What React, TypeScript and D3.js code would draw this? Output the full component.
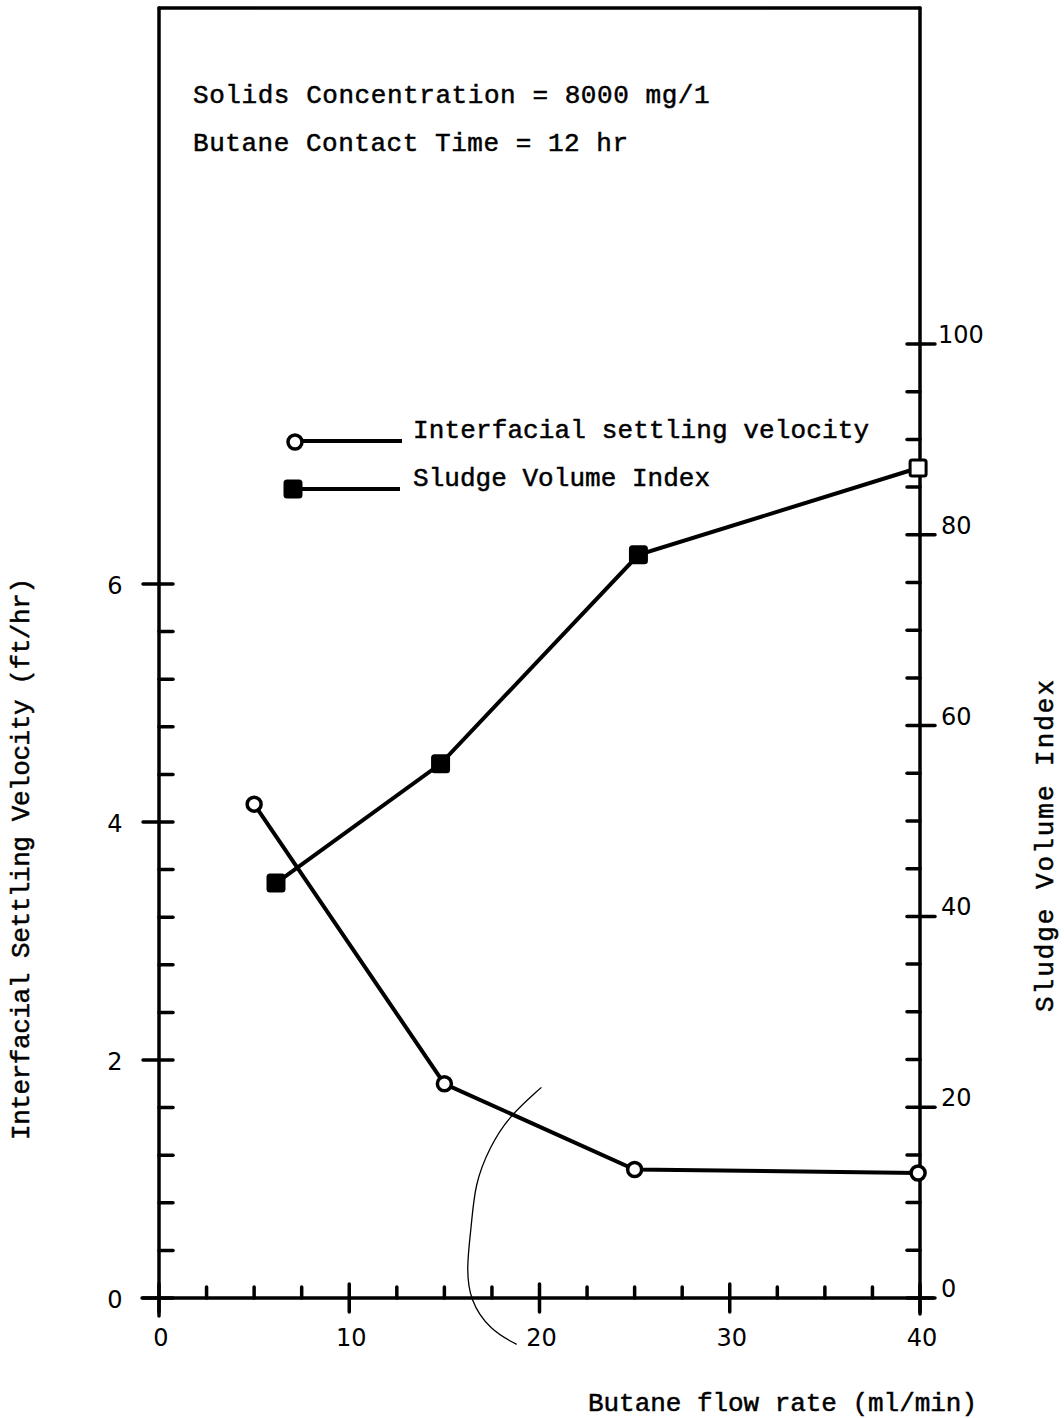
import React from "react";
import * as d3 from "d3";

// Data
const flowIsv = [5, 15, 25, 39.9];
const isv = [4.15, 1.8, 1.08, 1.05];
const flowSvi = [6.15, 14.8, 25.2, 39.9];
const svi = [43.5, 56.0, 77.9, 87.0];
const xTicks = [0, 10, 20, 30, 40];
const leftTicks = [0, 2, 4, 6];
const rightTicks = [0, 20, 40, 60, 80, 100];
const annotations = ["Solids Concentration = 8000 mg/1", "Butane Contact Time = 12 hr"];
const legendLabels = ["Interfacial settling velocity", "Sludge Volume Index"];
const xTitle = "Butane flow rate (ml/min)";
const leftTitle = "Interfacial Settling Velocity (ft/hr)";
const rightTitle = "Sludge Volume Index";
// stray pencil mark on the original sheet (in data units of x / left y)
const pencilX = [20.1, 18.36, 17.39, 16.6, 16.42, 16.16, 16.33, 17.4, 18.8];
const pencilY = [1.77, 1.52, 1.27, 0.96, 0.6, 0.26, -0.02, -0.27, -0.39];

const W = 1064;
const H = 1418;
const mono = "'Liberation Mono', 'DejaVu Sans Mono', monospace";
const digits = "'DejaVu Sans', sans-serif";

export default function App() {
  const x = d3.scaleLinear().domain([0, 40]).range([159, 920]);
  const yL = d3.scaleLinear().domain([0, 6]).range([1298, 584]);
  const yR = d3.scaleLinear().domain([0, 100]).range([1298, 344]);
  const top = 8;

  const lineL = d3.line<number>().x((_, i) => x(flowIsv[i])).y((d) => yL(d));
  const lineR = d3.line<number>().x((_, i) => x(flowSvi[i])).y((d) => yR(d));
  const pencil = d3
    .line<number>()
    .x((d) => x(d))
    .y((_, i) => yL(pencilY[i]))
    .curve(d3.curveBasis);

  const xMinor = d3.range(0, 40.001, 2.5);
  const lMinor = d3.range(0, 6.001, 0.4);
  const rMinor = d3.range(0, 100.001, 5);

  const x0 = x(0);
  const x1 = x(40);
  const y0 = yL(0);

  return (
    <svg width={W} height={H} style={{ position: "absolute", left: 0, top: 0, background: "#fff" }}>
      <rect x={0} y={0} width={W} height={H} fill="#fff" />
      <g stroke="#000" strokeWidth={3.5} strokeLinecap="round" fill="none">
        {/* frame */}
        <line x1={x0} y1={top} x2={x1} y2={top} />
        <line x1={x0} y1={top} x2={x0} y2={y0 + 18} />
        <line x1={x1} y1={top} x2={x1} y2={y0 + 16} />
        <line x1={x0 - 17} y1={y0} x2={x1 + 13} y2={y0} />
        {/* x ticks */}
        {xMinor.map((v) =>
          Math.abs(v % 10) < 1e-6 ? (
            <line key={"xt" + v} x1={x(v)} y1={y0 - 14} x2={x(v)} y2={y0 + 14} />
          ) : (
            <line key={"xt" + v} x1={x(v)} y1={y0 - 11} x2={x(v)} y2={y0} />
          )
        )}
        {/* left ticks */}
        {lMinor.map((v) => {
          const isMajor = Math.abs(v / 2 - Math.round(v / 2)) < 1e-6;
          return (
            <line
              key={"lt" + v}
              x1={isMajor ? x0 - 16 : x0}
              y1={yL(v)}
              x2={x0 + 14}
              y2={yL(v)}
            />
          );
        })}
        {/* right ticks */}
        {rMinor.map((v) => {
          const isMajor = Math.abs(v % 20) < 1e-6;
          return (
            <line
              key={"rt" + v}
              x1={x1 - 13}
              y1={yR(v)}
              x2={isMajor ? x1 + 15 : x1}
              y2={yR(v)}
            />
          );
        })}
      </g>

      {/* pencil mark */}
      <path d={pencil(pencilX) || ""} fill="none" stroke="#000" strokeWidth={1.3} />

      {/* series lines */}
      <path d={lineL(isv) || ""} fill="none" stroke="#000" strokeWidth={4} />
      <path d={lineR(svi) || ""} fill="none" stroke="#000" strokeWidth={4} />

      {/* markers */}
      {isv.map((v, i) => (
        <circle key={"c" + i} cx={x(flowIsv[i])} cy={yL(v)} r={7} fill="#fff" stroke="#000" strokeWidth={3.5} />
      ))}
      {svi.map((v, i) => (
        <rect
          key={"s" + i}
          x={x(flowSvi[i]) - 8}
          y={yR(v) - 8}
          width={16}
          height={16}
          rx={2}
          fill={i === svi.length - 1 ? "#fff" : "#000"}
          stroke="#000"
          strokeWidth={3}
        />
      ))}

      {/* tick labels */}
      <g fontFamily={digits} fontSize={24} fill="#000">
        {xTicks.map((v) => (
          <text key={"xl" + v} x={x(v) + 2} y={y0 + 40} textAnchor="middle" dominantBaseline="central">
            {v}
          </text>
        ))}
        {leftTicks.map((v) => (
          <text key={"ll" + v} x={115} y={yL(v) + 2} textAnchor="middle" dominantBaseline="central">
            {v}
          </text>
        ))}
        {rightTicks.map((v) => (
          <text key={"rl" + v} x={v === 100 ? 938 : 941} y={yR(v) - 9} textAnchor="start" dominantBaseline="central">
            {v}
          </text>
        ))}
      </g>

      {/* texts */}
      <g fontFamily={mono} fontSize={26} fill="#000" stroke="#000" strokeWidth={0.5}>
        {annotations.map((t, i) => (
          <text key={"a" + i} x={193} y={103 + i * 48} textLength={t.length * 16.3 - 5} lengthAdjust="spacing">
            {t}
          </text>
        ))}
        {legendLabels.map((t, i) => (
          <text key={"lg" + i} x={413} y={438 + i * 48} textLength={t.length * 15.9 - 5} lengthAdjust="spacing">
            {t}
          </text>
        ))}
        <text x={588} y={1411} textLength={389} lengthAdjust="spacing">
          {xTitle}
        </text>
        <text
          transform={`translate(29, ${1140}) rotate(-90)`}
          x={0}
          y={0}
          textLength={562}
          lengthAdjust="spacing"
        >
          {leftTitle}
        </text>
        <text
          transform={`translate(1053, ${1012}) rotate(-90)`}
          x={0}
          y={0}
          textLength={332}
          lengthAdjust="spacing"
        >
          {rightTitle}
        </text>
      </g>

      {/* legend symbols */}
      <g stroke="#000" strokeWidth={4}>
        <line x1={303} y1={441} x2={402} y2={441} />
        <line x1={300} y1={489} x2={400} y2={489} />
      </g>
      <circle cx={295} cy={442} r={7} fill="#fff" stroke="#000" strokeWidth={3.5} />
      <rect x={285} y={481} width={16} height={16} rx={2} fill="#000" stroke="#000" strokeWidth={3} />
    </svg>
  );
}
